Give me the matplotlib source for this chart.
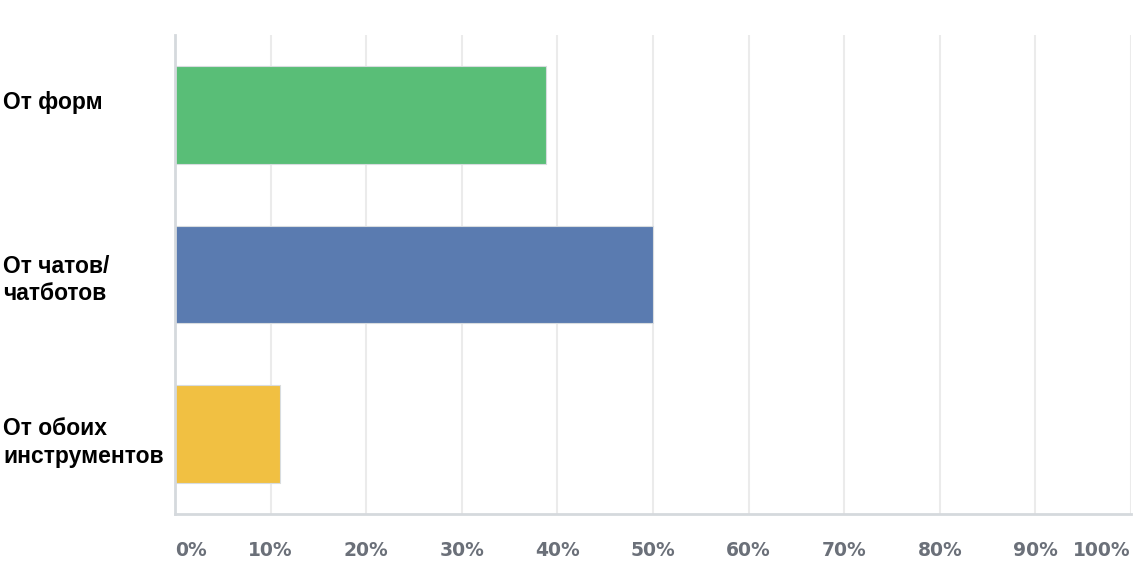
import matplotlib
matplotlib.use("Agg")
from matplotlib import pyplot as plt
from matplotlib import transforms

categories = ["От форм", "От чатов/\nчатботов", "От обоих\nинструментов"]
values = [38.8, 50, 11]
colors = ["#59be77", "#5a7bb0", "#f1c042"]
tick_values = [0, 10, 20, 30, 40, 50, 60, 70, 80, 90, 100]
tick_labels = [f"{t}%" for t in tick_values]
# small vertical nudges (points) for the category labels, as in the original
label_nudge = [9, -4, -6]

fig = plt.figure(figsize=(11.48, 5.78), dpi=100)
ax = fig.add_axes([175 / 1148, 64 / 578, (1131 - 175) / 1148, (514 - 35) / 578])

ypos = list(range(len(categories)))
ax.barh(ypos, values, height=0.61, color=colors, edgecolor="#d8dcdf",
        linewidth=0.8, zorder=3)

ax.set_xlim(0, 100)
ax.set_ylim(len(categories) - 0.5, -0.5)

ax.set_xticks(tick_values)
ax.set_xticklabels([])
ax.tick_params(axis="both", length=0)
ax.set_yticks([])
ax.grid(axis="x", color="#ebebeb", linewidth=1.5, zorder=0)

for side in ["top", "right"]:
    ax.spines[side].set_visible(False)
ax.spines["left"].set_color("#d5d9dd")
ax.spines["left"].set_linewidth(2)
ax.spines["bottom"].set_color("#d5d9dd")
ax.spines["bottom"].set_linewidth(2)
ax.spines["left"].set_zorder(4)

# tick labels: first left aligned, last right aligned, others centered
xtrans = transforms.blended_transform_factory(ax.transData, fig.transFigure)
for i, (t, lab) in enumerate(zip(tick_values, tick_labels)):
    ha = "center"
    if i == 0:
        ha = "left"
    elif i == len(tick_values) - 1:
        ha = "right"
    ax.text(t, 1 - 550 / 578, lab, transform=xtrans, ha=ha, va="center",
            fontsize=13.5, fontweight="bold", color="#6b7079",
            family="DejaVu Sans")

# category labels at the far left
ytrans = transforms.blended_transform_factory(fig.transFigure, ax.transData)
for y, cat, dy in zip(ypos, categories, label_nudge):
    off = transforms.offset_copy(ytrans, fig=fig, x=0, y=dy, units="points")
    ax.text(3 / 1148, y, cat, transform=off, ha="left", va="center",
            fontsize=16.5, fontweight="bold", color="#000000",
            family="Liberation Sans", linespacing=1.25)

fig.savefig("out.png", dpi=100)
